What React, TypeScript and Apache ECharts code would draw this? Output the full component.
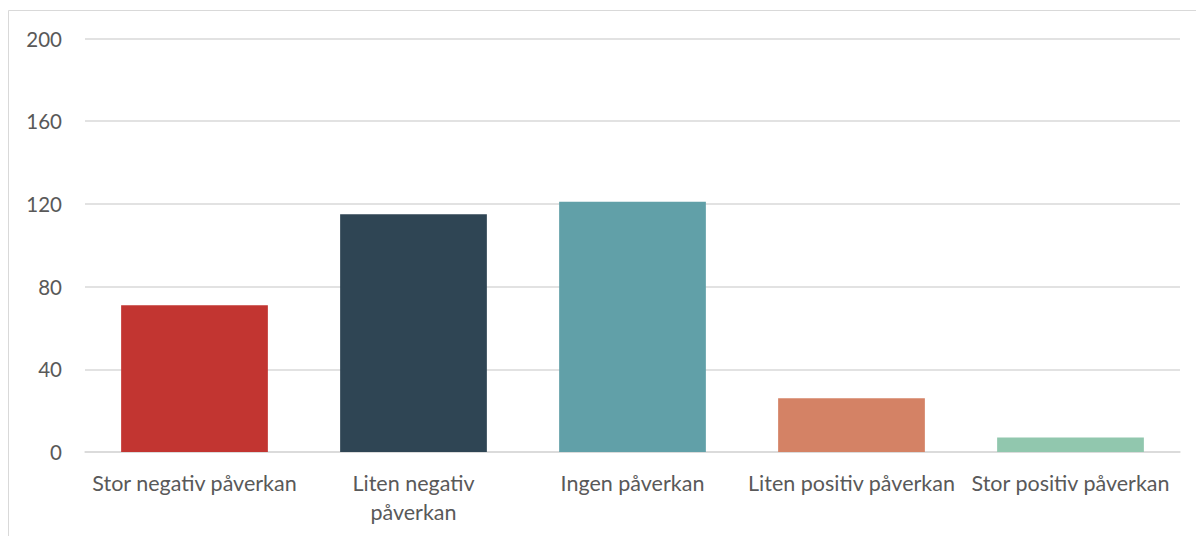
import React, { useEffect, useRef } from "react";
import * as echarts from "echarts";

const categories = [
  "Stor negativ påverkan",
  "Liten negativ påverkan",
  "Ingen påverkan",
  "Liten positiv påverkan",
  "Stor positiv påverkan",
];
const values = [71, 115, 121, 26, 7];
const barColors = ["#C23531", "#2F4554", "#61A0A8", "#D48265", "#91C7AE"];
const yTicks = [0, 40, 80, 120, 160, 200];

export default function App() {
  const ref = useRef<HTMLDivElement>(null);
  useEffect(() => {
    if (!ref.current) return;
    const chart = echarts.init(ref.current, undefined, { renderer: "svg" });
    const font = "Lato, 'Open Sans', sans-serif";
    chart.setOption({
      animation: false,
      backgroundColor: "#ffffff",
      grid: { left: 85, right: 16, top: 38.5, bottom: 84, containLabel: false },
      xAxis: {
        type: "category",
        data: categories,
        axisLine: { show: true, lineStyle: { color: "#d9d9d9", width: 1.5 } },
        axisTick: { show: false },
        axisLabel: {
          interval: 0,
          color: "#595959",
          fontFamily: font,
          fontSize: 21.5,
          lineHeight: 29,
          margin: 16,
          formatter: (v: string) =>
            v === "Liten negativ påverkan" ? "Liten negativ\npåverkan" : v,
        },
      },
      yAxis: {
        type: "value",
        min: yTicks[0],
        max: yTicks[yTicks.length - 1],
        interval: 40,
        axisLine: { show: false },
        axisTick: { show: false },
        splitLine: { lineStyle: { color: "#d9d9d9", width: 1.5 } },
        axisLabel: { color: "#595959", fontFamily: font, fontSize: 20.5, margin: 23 },
      },
      series: [
        {
          type: "bar",
          data: values.map((v, i) => ({ value: v, itemStyle: { color: barColors[i] } })),
          barCategoryGap: "33%",
        },
      ],
      graphic: [
        {
          type: "line",
          shape: { x1: 8.5, y1: 10.5, x2: 1196, y2: 10.5 },
          style: { stroke: "#d9d9d9", lineWidth: 1 },
        },
        {
          type: "line",
          shape: { x1: 8.5, y1: 10.5, x2: 8.5, y2: 536 },
          style: { stroke: "#d9d9d9", lineWidth: 1 },
        },
      ],
    });
    return () => chart.dispose();
  }, []);
  return (
    <div
      ref={ref}
      style={{ position: "absolute", left: 0, top: 0, width: 1196, height: 536 }}
    />
  );
}
